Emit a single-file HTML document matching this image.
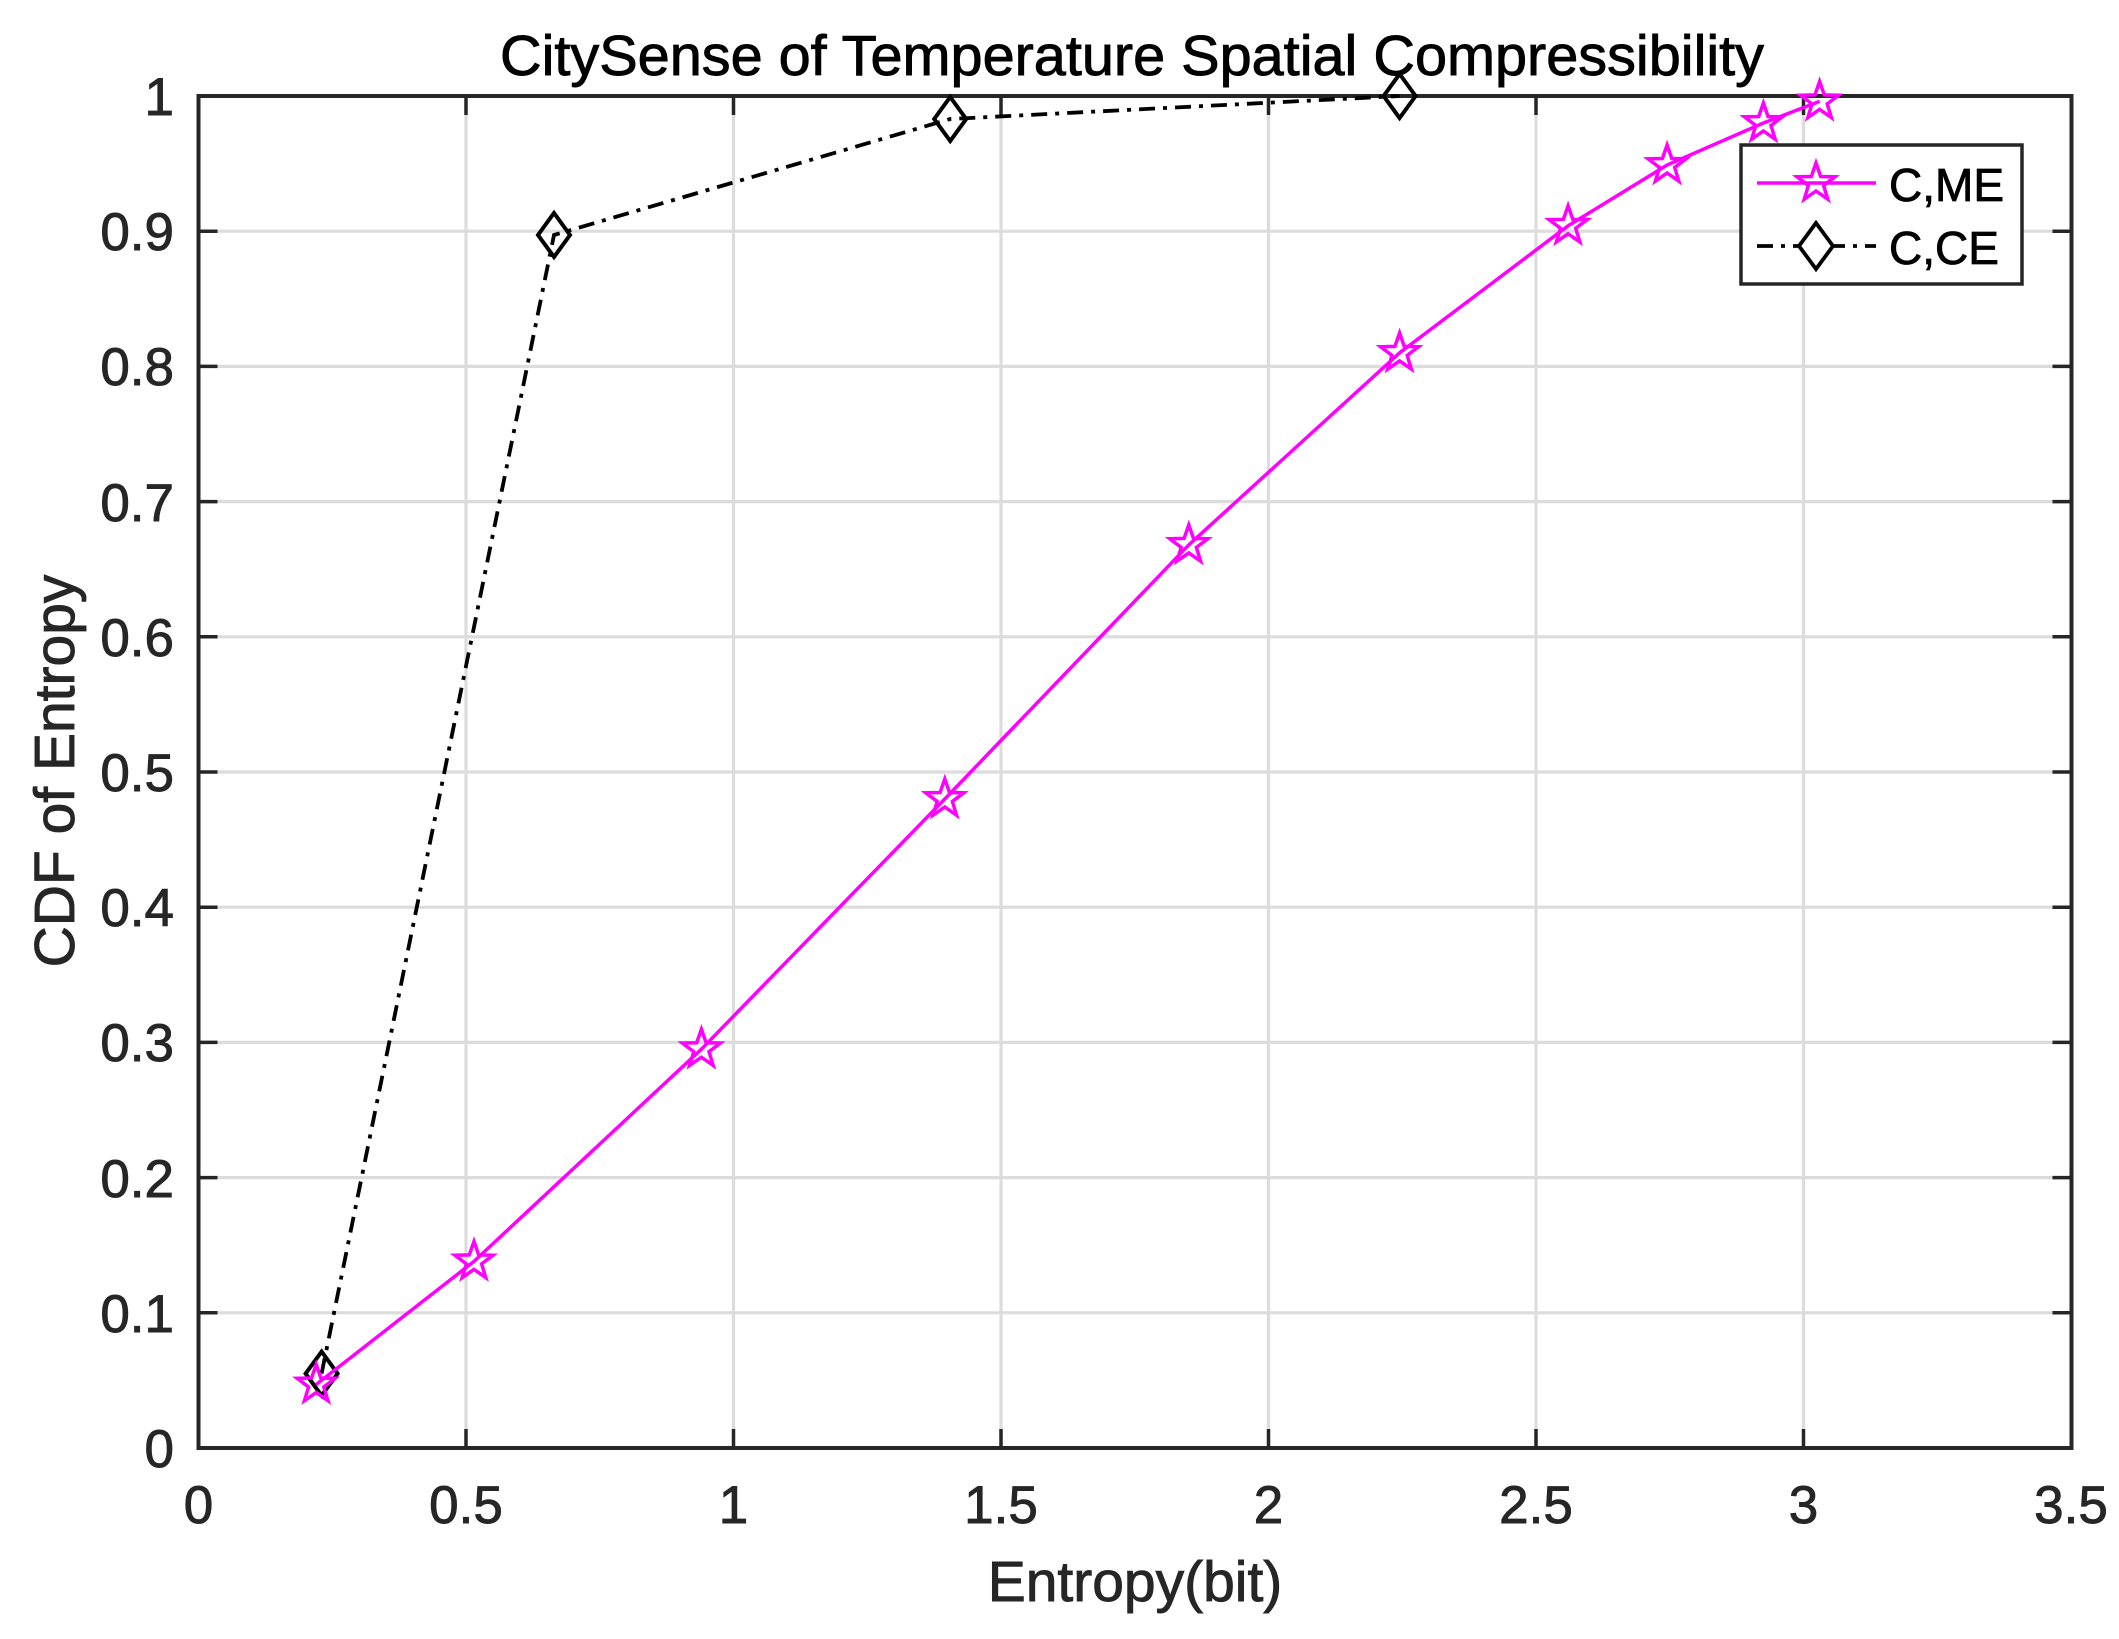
<!DOCTYPE html>
<html><head><meta charset="utf-8"><style>html,body{margin:0;padding:0;background:#fff}svg{display:block}</style></head>
<body>
<svg width="2119" height="1639" viewBox="0 0 2119 1639" xmlns="http://www.w3.org/2000/svg" font-family="Liberation Sans, Arial, sans-serif">
<defs>
<polygon id="st" points="0,-20 4.7,-6.47 19.02,-6.18 7.61,2.47 11.76,16.18 0,8 -11.76,16.18 -7.61,2.47 -19.02,-6.18 -4.7,-6.47" fill="none" stroke="#ff00ff" stroke-width="3.5"/>
<polygon id="dm" points="0,-22 16,0 0,22 -16,0" fill="none" stroke="#000" stroke-width="4"/>
</defs>
<rect x="0" y="0" width="2119" height="1639" fill="#fff"/>
<g stroke="#dcdcdc" stroke-width="3.2">
<line x1="466" y1="96" x2="466" y2="1448"/><line x1="733.5" y1="96" x2="733.5" y2="1448"/><line x1="1001" y1="96" x2="1001" y2="1448"/><line x1="1268.5" y1="96" x2="1268.5" y2="1448"/><line x1="1536" y1="96" x2="1536" y2="1448"/><line x1="1803.5" y1="96" x2="1803.5" y2="1448"/>
<line x1="198.5" y1="1312.8" x2="2071.5" y2="1312.8"/><line x1="198.5" y1="1177.6" x2="2071.5" y2="1177.6"/><line x1="198.5" y1="1042.4" x2="2071.5" y2="1042.4"/><line x1="198.5" y1="907.2" x2="2071.5" y2="907.2"/><line x1="198.5" y1="772" x2="2071.5" y2="772"/><line x1="198.5" y1="636.8" x2="2071.5" y2="636.8"/><line x1="198.5" y1="501.6" x2="2071.5" y2="501.6"/><line x1="198.5" y1="366.4" x2="2071.5" y2="366.4"/><line x1="198.5" y1="231.2" x2="2071.5" y2="231.2"/>
</g>
<g stroke="#262626" stroke-width="3.5">
<path d="M466 1448v-19M733.5 1448v-19M1001 1448v-19M1268.5 1448v-19M1536 1448v-19M1803.5 1448v-19M466 96v19M733.5 96v19M1001 96v19M1268.5 96v19M1536 96v19M1803.5 96v19"/>
<path d="M198.5 1312.8h19M198.5 1177.6h19M198.5 1042.4h19M198.5 907.2h19M198.5 772h19M198.5 636.8h19M198.5 501.6h19M198.5 366.4h19M198.5 231.2h19M2071.5 1312.8h-19M2071.5 1177.6h-19M2071.5 1042.4h-19M2071.5 907.2h-19M2071.5 772h-19M2071.5 636.8h-19M2071.5 501.6h-19M2071.5 366.4h-19M2071.5 231.2h-19"/>
</g>
<rect x="198.5" y="96" width="1873" height="1352" fill="none" stroke="#262626" stroke-width="4"/>
<polyline points="321.6,1373.6 554,235 950.2,119 1399.6,96" fill="none" stroke="#000" stroke-width="3.8" stroke-dasharray="16,8,4,8"/>
<g><use href="#dm" x="321.6" y="1373.6"/><use href="#dm" x="554" y="235"/><use href="#dm" x="950.2" y="119"/><use href="#dm" x="1399.6" y="96"/></g>
<polyline points="316.2,1384.5 474,1261.4 701.4,1049.2 944.8,799 1188.8,544.9 1399.6,352.9 1568.1,225.8 1667.1,165 1763.4,123 1819.6,101.4" fill="none" stroke="#ff00ff" stroke-width="3.5"/>
<g><use href="#st" x="316.2" y="1384.5"/><use href="#st" x="474" y="1261.4"/><use href="#st" x="701.4" y="1049.2"/><use href="#st" x="944.8" y="799"/><use href="#st" x="1188.8" y="544.9"/><use href="#st" x="1399.6" y="352.9"/><use href="#st" x="1568.1" y="225.8"/><use href="#st" x="1667.1" y="165"/><use href="#st" x="1763.4" y="123"/><use href="#st" x="1819.6" y="101.4"/></g>
<g font-size="53" fill="#262626" stroke="#262626" stroke-width="0.9" text-anchor="middle">
<text x="198.5" y="1523">0</text><text x="466" y="1523">0.5</text><text x="733.5" y="1523">1</text><text x="1001" y="1523">1.5</text><text x="1268.5" y="1523">2</text><text x="1536" y="1523">2.5</text><text x="1803.5" y="1523">3</text><text x="2071" y="1523">3.5</text>
</g>
<g font-size="53" fill="#262626" stroke="#262626" stroke-width="0.9" text-anchor="end">
<text x="174" y="1467">0</text><text x="174" y="1332">0.1</text><text x="174" y="1197">0.2</text><text x="174" y="1061">0.3</text><text x="174" y="926">0.4</text><text x="174" y="791">0.5</text><text x="174" y="656">0.6</text><text x="174" y="521">0.7</text><text x="174" y="385">0.8</text><text x="174" y="250">0.9</text><text x="174" y="115">1</text>
</g>
<text x="1135" y="1601" font-size="57" fill="#262626" stroke="#262626" stroke-width="0.9" text-anchor="middle">Entropy(bit)</text>
<text transform="translate(74,771) rotate(-90)" font-size="57" fill="#262626" stroke="#262626" stroke-width="0.9" text-anchor="middle">CDF of Entropy</text>
<text x="1132" y="75" font-size="57" fill="#000" stroke="#000" stroke-width="0.9" text-anchor="middle" textLength="1264" lengthAdjust="spacingAndGlyphs">CitySense of Temperature Spatial Compressibility</text>
<rect x="1741" y="145" width="281" height="139" fill="#fff" stroke="#262626" stroke-width="3.5"/>
<line x1="1757" y1="183" x2="1876" y2="183" stroke="#ff00ff" stroke-width="3.5"/>
<use href="#st" x="1816" y="183"/>
<line x1="1757" y1="246" x2="1876" y2="246" stroke="#000" stroke-width="3.8" stroke-dasharray="16,8,4,8"/>
<polygon points="1816,223 1833,246 1816,269 1799,246" fill="#fff" stroke="#000" stroke-width="3.8"/>
<text x="1889" y="201" font-size="46" fill="#000" stroke="#000" stroke-width="0.8">C,ME</text>
<text x="1889" y="264" font-size="46" fill="#000" stroke="#000" stroke-width="0.8">C,CE</text>
</svg>
</body></html>
